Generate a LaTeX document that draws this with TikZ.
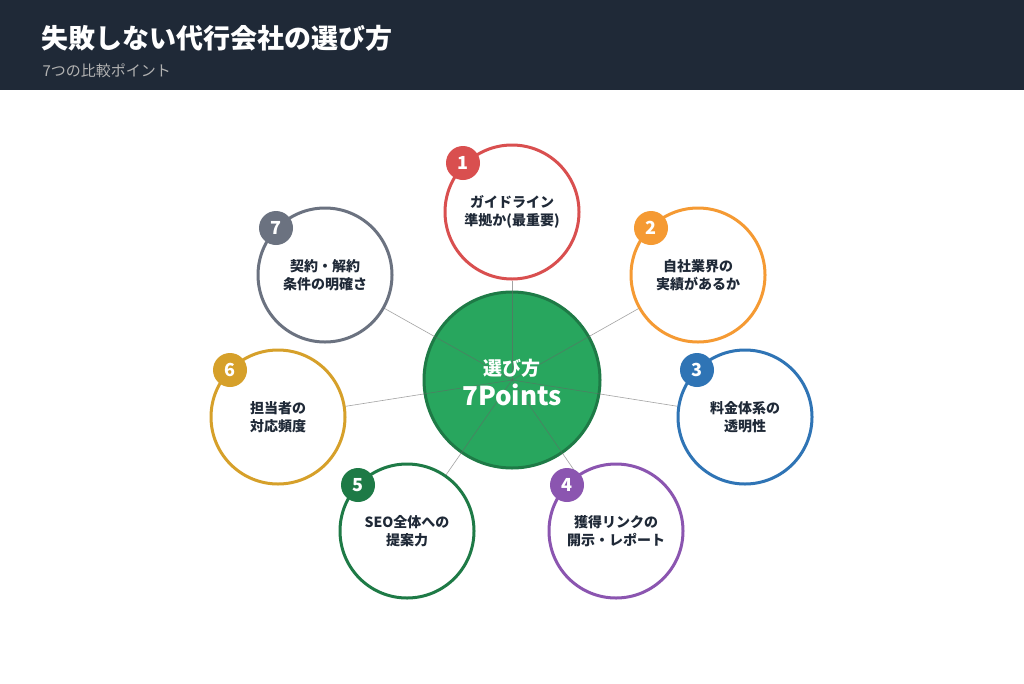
\documentclass[tikz,border=0pt]{standalone}
\usepackage{fontspec}
\setmainfont{Noto Sans CJK JP}
\definecolor{hdr}{HTML}{1F2937}
\definecolor{c1}{HTML}{D94F4F}
\definecolor{c2}{HTML}{F59A33}
\definecolor{c3}{HTML}{2F74B5}
\definecolor{c4}{HTML}{8B55B0}
\definecolor{c5}{HTML}{1E7A46}
\definecolor{c6}{HTML}{D6A02A}
\definecolor{c7}{HTML}{6B7280}
\definecolor{cg}{HTML}{28A65E}
\definecolor{txt}{HTML}{1F2937}
\begin{document}
\begin{tikzpicture}[x=1pt,y=-1pt,
  pt/.style={circle,draw=#1,line width=3pt,fill=white,minimum size=134pt,inner sep=0pt,align=center,font=\bfseries\fontsize{14}{18}\selectfont,text=txt},
  badge/.style={circle,fill=#1,minimum size=34pt,inner sep=0pt,text=white,font=\bfseries\fontsize{18}{18}\selectfont},
  conn/.style={draw=gray!80!black,line width=0.6pt}]
\useasboundingbox (0,0) rectangle (1024,683);
\fill[white] (0,0) rectangle (1024,683);
\fill[hdr] (0,0) rectangle (1024,90);
\node[anchor=west,text=white,font=\bfseries\fontsize{27}{30}\selectfont] (title) at (38,38) {失敗しない代行会社の選び方};
\node[anchor=west,text=gray!60!white,font=\fontsize{15}{18}\selectfont] (sub) at (39,71) {7つの比較ポイント};
\coordinate (C) at (512,380);
\node[pt=c1] (p1) at (512,212) {ガイドライン\\準拠か(最重要)};
\node[pt=c2] (p2) at (698,275) {自社業界の\\実績があるか};
\node[pt=c3] (p3) at (745,417) {料金体系の\\透明性};
\node[pt=c4] (p4) at (616,531) {獲得リンクの\\開示・レポート};
\node[pt=c5] (p5) at (407,531) {SEO全体への\\提案力};
\node[pt=c6] (p6) at (278,417) {担当者の\\対応頻度};
\node[pt=c7] (p7) at (325,275) {契約・解約\\条件の明確さ};
\node[circle,fill=cg,draw=c5,line width=3pt,minimum size=176pt,inner sep=0pt] (ctr) at (C) {};
\foreach \i in {1,...,7} \draw[conn,opacity=0.6] (C) -- (p\i);
\node[text=white,align=center,font=\bfseries\fontsize{19}{30}\selectfont] (ct) at (512,382) {選び方\\{\fontsize{26}{28}\selectfont 7Points}};
\node[badge=c1] (b1) at (463,163) {1};
\node[badge=c2] (b2) at (651,228) {2};
\node[badge=c3] (b3) at (697,370) {3};
\node[badge=c4] (b4) at (567,485) {4};
\node[badge=c5] (b5) at (358,485) {5};
\node[badge=c6] (b6) at (230,370) {6};
\node[badge=c7] (b7) at (276,228) {7};
\end{tikzpicture}
\end{document}
